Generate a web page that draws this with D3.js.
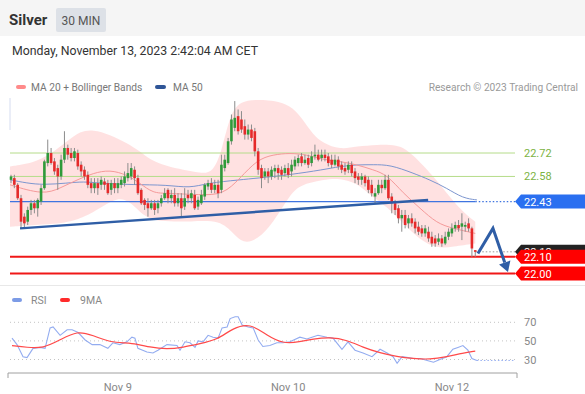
<!DOCTYPE html>
<html><head><meta charset="utf-8">
<script src="https://cdn.jsdelivr.net/npm/d3@7"></script>
<style>body{margin:0;background:#fff;} svg{display:block;font-family:Roboto,"Liberation Sans",Arial,sans-serif;}</style>
</head><body><svg id="c" width="585" height="394"></svg>
<script>
// ---- data ----
const open=[22.56,22.57,22.53,22.45,22.34,22.31,22.38,22.42,22.39,22.43,22.51,22.66,22.72,22.67,22.63,22.58,22.68,22.75,22.72,22.69,
22.72,22.65,22.62,22.59,22.54,22.51,22.54,22.53,22.55,22.54,22.50,22.54,22.51,22.53,22.54,22.57,22.58,22.62,22.57,22.50,
22.44,22.42,22.39,22.42,22.39,22.42,22.45,22.50,22.45,22.47,22.42,22.45,22.40,22.47,22.45,22.47,22.40,22.42,22.46,22.52,
22.54,22.50,22.53,22.50,22.63,22.66,22.79,22.87,22.94,22.92,22.88,22.83,22.86,22.85,22.73,22.63,22.58,22.61,22.58,22.61,
22.63,22.62,22.60,22.63,22.61,22.64,22.66,22.70,22.66,22.69,22.66,22.70,22.71,22.69,22.71,22.70,22.68,22.65,22.68,22.65,
22.63,22.62,22.65,22.61,22.58,22.56,22.58,22.56,22.53,22.46,22.48,22.53,22.51,22.56,22.46,22.42,22.39,22.33,22.35,22.30,
22.33,22.31,22.28,22.27,22.24,22.25,22.22,22.21,22.19,22.21,22.18,22.22,22.24,22.27,22.29,22.28,22.28,22.30,22.27,22.14];
const close=[22.58,22.53,22.45,22.31,22.30,22.38,22.42,22.39,22.44,22.51,22.67,22.72,22.66,22.61,22.58,22.68,22.75,22.71,22.69,22.73,
22.64,22.61,22.58,22.53,22.51,22.54,22.51,22.56,22.53,22.48,22.54,22.51,22.54,22.56,22.58,22.60,22.63,22.57,22.48,22.42,
22.41,22.39,22.42,22.38,22.42,22.45,22.48,22.45,22.47,22.42,22.45,22.39,22.45,22.45,22.48,22.39,22.44,22.47,22.53,22.54,
22.50,22.53,22.48,22.65,22.68,22.79,22.92,22.93,22.85,22.86,22.83,22.86,22.81,22.73,22.62,22.57,22.61,22.58,22.62,22.63,
22.60,22.59,22.63,22.59,22.65,22.68,22.69,22.66,22.68,22.65,22.70,22.71,22.68,22.71,22.69,22.66,22.65,22.68,22.64,22.62,
22.61,22.65,22.60,22.57,22.56,22.58,22.54,22.50,22.48,22.48,22.53,22.51,22.56,22.45,22.42,22.38,22.33,22.35,22.29,22.33,
22.30,22.27,22.25,22.24,22.27,22.21,22.18,22.18,22.21,22.18,22.22,22.25,22.27,22.29,22.27,22.30,22.29,22.27,22.15,22.13];
const high=[22.59,22.59,22.54,22.47,22.36,22.40,22.44,22.44,22.45,22.53,22.68,22.80,22.75,22.69,22.65,22.71,22.85,22.77,22.75,22.75,
22.74,22.67,22.64,22.61,22.57,22.57,22.57,22.58,22.57,22.56,22.56,22.57,22.57,22.58,22.61,22.66,22.66,22.64,22.59,22.51,
22.45,22.45,22.44,22.44,22.44,22.47,22.51,22.51,22.50,22.51,22.48,22.48,22.51,22.50,22.50,22.50,22.46,22.50,22.54,22.56,
22.57,22.56,22.56,22.71,22.71,22.81,22.95,23.03,22.98,22.97,22.92,22.89,22.89,22.87,22.75,22.65,22.63,22.63,22.64,22.65,
22.65,22.64,22.65,22.66,22.68,22.70,22.71,22.72,22.71,22.71,22.73,22.77,22.74,22.74,22.74,22.72,22.71,22.71,22.70,22.67,
22.66,22.67,22.67,22.63,22.60,22.60,22.59,22.58,22.56,22.51,22.56,22.56,22.59,22.59,22.48,22.44,22.41,22.38,22.38,22.35,
22.36,22.33,22.31,22.29,22.29,22.28,22.25,22.23,22.24,22.23,22.25,22.27,22.30,22.31,22.32,22.36,22.31,22.33,22.28,22.14];
const low=[22.54,22.51,22.44,22.27,22.27,22.29,22.35,22.36,22.34,22.41,22.50,22.64,22.65,22.59,22.50,22.56,22.66,22.68,22.67,22.67,
22.62,22.58,22.56,22.51,22.48,22.48,22.47,22.50,22.50,22.47,22.47,22.48,22.48,22.51,22.52,22.55,22.56,22.53,22.47,22.41,
22.38,22.34,22.38,22.35,22.36,22.40,22.44,22.42,22.42,22.40,22.40,22.34,22.38,22.42,22.42,22.38,22.38,22.41,22.44,22.50,
22.48,22.48,22.45,22.48,22.61,22.65,22.77,22.85,22.83,22.84,22.80,22.80,22.79,22.70,22.59,22.51,22.56,22.54,22.56,22.57,
22.56,22.56,22.58,22.57,22.58,22.62,22.64,22.64,22.65,22.63,22.64,22.68,22.67,22.67,22.67,22.64,22.63,22.64,22.62,22.60,
22.59,22.60,22.58,22.54,22.53,22.53,22.52,22.48,22.46,22.42,22.47,22.48,22.50,22.44,22.36,22.35,22.30,22.25,22.27,22.27,
22.28,22.24,22.23,22.22,22.22,22.19,22.16,22.16,22.17,22.16,22.17,22.20,22.22,22.25,22.25,22.20,22.25,22.25,22.10,22.10];

// [candle index, price]
const upperBand=[[-0.3,22.64],[6.6,22.66],[11.7,22.71],[16.8,22.79],[20.7,22.85],[24.6,22.86],[29.6,22.83],[34.7,22.78],[38.6,22.73],[41.6,22.68],
[46.7,22.64],[51.5,22.62],[56.6,22.60],[60.5,22.60],[63.2,22.74],[65.6,22.95],[68.6,23.03],[73.7,23.04],[80.5,23.03],[84.4,22.99],
[87.4,22.92],[90.4,22.83],[93.4,22.78],[98.5,22.74],[103.6,22.76],[109.6,22.77],[115.6,22.77],[119.5,22.73],[127.5,22.56],[133.5,22.40],[139,22.31]];
const lowerBand=[[-0.3,22.28],[6.6,22.29],[16.8,22.30],[22.2,22.34],[26.6,22.39],[30.5,22.44],[34.1,22.45],[37.1,22.40],[40.1,22.34],[44.0,22.31],
[54.2,22.31],[62.6,22.32],[66.5,22.24],[69.5,22.18],[73.7,22.20],[78.4,22.30],[83.5,22.47],[86.5,22.53],[93.4,22.56],[98.5,22.57],
[103.6,22.54],[107.5,22.47],[112.6,22.40],[117.4,22.30],[122.5,22.20],[127.5,22.15],[132.3,22.16],[139,22.18]];
const ma20=[[-0.3,22.53],[9.6,22.47],[14.7,22.51],[19.8,22.56],[24.6,22.60],[29.6,22.62],[34.7,22.59],[38.6,22.54],[42.5,22.48],[46.7,22.48],
[56.6,22.47],[63.5,22.47],[68.6,22.57],[73.7,22.68],[78.4,22.71],[83.5,22.72],[88.6,22.71],[93.4,22.68],[98.5,22.67],[103.6,22.65],
[108.4,22.62],[112.6,22.59],[117.4,22.48],[122.5,22.39],[127.5,22.30],[132.3,22.27],[139,22.24]];
const ma50=[[-0.3,22.56],[4.8,22.54],[9.6,22.53],[16.8,22.54],[21.6,22.55],[26.6,22.54],[36.5,22.53],[46.7,22.53],[53.6,22.51],[58.7,22.54],
[68.6,22.56],[73.7,22.57],[83.5,22.59],[93.4,22.62],[98.5,22.64],[103.6,22.65],[108.4,22.65],[113.5,22.65],[120.4,22.60],[125.4,22.56],
[130.5,22.51],[135.3,22.45],[139.5,22.44]];
const rsi=[[0.3,53],[1.8,46],[3.6,33],[4.8,32],[6.6,42],[8.7,43],[10.2,42],[11.7,64],[12.6,65],[14.7,56],[16.8,62],[18.3,62],[20.1,59],[22.2,51],
[24.3,46],[26.6,46],[29.0,42],[30.5,48],[32.6,46],[34.7,49],[36.2,54],[37.1,53],[38.0,42],[40.7,38],[42.5,37],[44.0,40],[46.7,46],[49.7,45],
[50.6,40],[52.1,49],[53.6,48],[55.1,43],[56.0,50],[57.5,49],[59.0,56],[60.5,54],[62.0,53],[63.2,64],[64.7,65],[65.6,74],[67.1,76],[68.0,76],
[69.2,67],[71.0,65],[72.5,64],[74.0,51],[75.4,44],[77.5,45],[79.6,48],[81.4,48],[83.5,49],[86.5,54],[88.6,52],[90.1,54],[91.9,56],[94.6,54],
[96.4,53],[99.1,41],[100.9,49],[103.0,40],[105.4,37],[108.1,33],[110.5,41],[112.6,37],[114.4,33],[115.6,26],[117.1,33],[118.9,32],[120.4,31],
[122.5,31],[124.6,29],[126.5,27],[128.4,30],[130.5,33],[132.3,41],[133.8,43],[135.3,45],[136.8,40],[138.0,31],[139.5,29]];
const rsiMA=[[0.3,45],[4.8,43],[9.6,42],[14.7,51],[19.8,61],[24.6,56],[29.6,48],[36.5,48],[41.6,43],[46.7,41],[51.5,43],[56.6,47],[61.7,51],
[66.5,64],[71.6,69],[76.6,56],[81.4,47],[86.5,49],[90.4,52],[95.5,54],[100.6,51],[105.4,43],[110.5,37],[115.6,33],[120.4,31],[125.4,30],
[130.5,33],[135.3,37],[139,39]];
const greenLevels=[22.72,22.58];
const blueLevel=22.43;
const redLevels=[22.10,22.00];
const lastPrice=22.13;
const trendline=[[2.7,22.27],[124.9,22.44]];
const forecast=[[139.8,22.12],[144.3,22.27],[148.8,22.01]];
const xTickIdx=[32,83,132];
const xTickLabels=["Nov 9","Nov 10","Nov 12"];
const rsiTicks=[70,50,30];

// ---- layout ----
const svg=d3.select("#c");
const plotL=10, plotR=515;
const x=d3.scaleLinear().domain([-0.9,151.5]).range([8,517]);
const y=d3.scaleLinear().domain([22.00,22.72]).range([273.6,153]);
const yr=d3.scaleLinear().domain([30,70]).range([359.5,322.3]);
const lastIdx=close.length-1;

// header
svg.append("rect").attr("x",0).attr("y",0).attr("width",585).attr("height",36).attr("fill","#f5f5f5");
svg.append("text").attr("x",9).attr("y",25).attr("font-size",15).attr("font-weight","bold").attr("fill","#333").text("Silver");
svg.append("rect").attr("x",56).attr("y",8).attr("width",50).attr("height",24).attr("rx",2).attr("fill","#dde1e7");
svg.append("text").attr("x",81).attr("y",24.5).attr("text-anchor","middle").attr("font-size",12).attr("fill","#555").text("30 MIN");
svg.append("text").attr("x",12).attr("y",55).attr("font-size",12.3).attr("fill","#333").text("Monday, November 13, 2023 2:42:04 AM CET");

// legend
svg.append("rect").attr("x",16).attr("y",85).attr("width",10).attr("height",4).attr("rx",2).attr("fill","#ff8a8a");
svg.append("text").attr("x",31).attr("y",91).attr("font-size",10.2).attr("fill","#777").text("MA 20 + Bollinger Bands");
svg.append("rect").attr("x",155).attr("y",85).attr("width",11).attr("height",4).attr("rx",2).attr("fill","#2f5597");
svg.append("text").attr("x",173).attr("y",91).attr("font-size",10.2).attr("fill","#777").text("MA 50");
svg.append("text").attr("x",578).attr("y",91).attr("text-anchor","end").attr("font-size",10.2).attr("fill","#9a9a9a").text("Research \u00A9 2023 Trading Central");
svg.append("line").attr("x1",10).attr("x2",10).attr("y1",98).attr("y2",130).attr("stroke","#d5dcf0").attr("stroke-width",1);

// bands
const lineP=d3.line().x(d=>x(d[0])).y(d=>y(d[1])).curve(d3.curveBasis);
const up=lineP(upperBand), lo=lineP(lowerBand.slice().reverse());
svg.append("path").attr("d",up+"L"+lo.slice(1)+"Z").attr("fill","#ffdcdc").attr("opacity",0.85);

// level lines
greenLevels.forEach(v=>{
  svg.append("line").attr("x1",plotL).attr("x2",plotR).attr("y1",y(v)).attr("y2",y(v)).attr("stroke","#b5dc8a").attr("stroke-width",1);
});
svg.append("path").attr("d",lineP(ma50)).attr("fill","none").attr("stroke","#7d96cf").attr("stroke-width",1);
svg.append("path").attr("d",lineP(ma20)).attr("fill","none").attr("stroke","#f59a9a").attr("stroke-width",1);
svg.append("line").attr("x1",plotL).attr("x2",x(lastIdx)).attr("y1",y(blueLevel)).attr("y2",y(blueLevel)).attr("stroke","#3f74e0").attr("stroke-width",1.4);
svg.append("line").attr("x1",x(lastIdx)).attr("x2",plotR).attr("y1",y(blueLevel)).attr("y2",y(blueLevel)).attr("stroke","#3f74e0").attr("stroke-width",1.2).attr("stroke-dasharray","1.5,2");
redLevels.forEach(v=>{
  svg.append("line").attr("x1",plotL).attr("x2",plotR).attr("y1",y(v)).attr("y2",y(v)).attr("stroke","#f01818").attr("stroke-width",2);
});
svg.append("line").attr("x1",x(lastIdx)).attr("x2",plotR).attr("y1",y(lastPrice)).attr("y2",y(lastPrice)).attr("stroke","#999").attr("stroke-width",1).attr("stroke-dasharray","1.5,2");

// candles
const cg=svg.append("g");
close.forEach((c,i)=>{
  const o=open[i], cx=x(i);
  const col=c>=o?"#2f9a3a":"#e52a2a";
  cg.append("line").attr("x1",cx).attr("x2",cx).attr("y1",y(high[i])).attr("y2",y(low[i])).attr("stroke","#8c8c8c").attr("stroke-width",1);
  const t=y(Math.max(o,c)), b=y(Math.min(o,c));
  cg.append("rect").attr("x",cx-1.3).attr("y",t).attr("width",2.6).attr("height",Math.max(1,b-t)).attr("fill",col);
});

// trendline
const lineL=d3.line().x(d=>x(d[0])).y(d=>y(d[1]));
svg.append("path").attr("d",lineL(trendline)).attr("stroke","#2f5ea6").attr("stroke-width",2.5).attr("fill","none");

// forecast arrow
const fc=forecast.map(d=>[x(d[0]),y(d[1])]);
const p1=fc[fc.length-2], p2=fc[fc.length-1];
const ang=Math.atan2(p2[1]-p1[1],p2[0]-p1[0]);
const hl=10, hw=6;
const base=[p2[0]-hl*Math.cos(ang),p2[1]-hl*Math.sin(ang)];
const fcLine=fc.slice(0,-1).concat([base]);
svg.append("path").attr("d",d3.line()(fcLine)).attr("stroke","#2f5ea6").attr("stroke-width",3).attr("fill","none").attr("stroke-linejoin","miter");
svg.append("path").attr("d",d3.line()([p2,[base[0]+hw*Math.sin(ang),base[1]-hw*Math.cos(ang)],[base[0]-hw*Math.sin(ang),base[1]+hw*Math.cos(ang)]])+"Z").attr("fill","#2f5ea6");

// right labels
function tag(v,fill){
  const cy=y(v);
  svg.append("path").attr("d",d3.line()([[515,cy],[521,cy-7],[585,cy-7],[585,cy+7],[521,cy+7]])+"Z").attr("fill",fill);
  svg.append("text").attr("x",524).attr("y",cy+4).attr("font-size",11).attr("fill","#fff").text(v.toFixed(2));
}
greenLevels.forEach(v=>{
  svg.append("text").attr("x",524).attr("y",y(v)+4).attr("font-size",11).attr("fill","#7cb342").text(v.toFixed(2));
});
tag(lastPrice,"#222");
tag(blueLevel,"#2a6ff0");
redLevels.forEach(v=>tag(v,"#ff0000"));

// separator
svg.append("line").attr("x1",0).attr("x2",585).attr("y1",285.5).attr("y2",285.5).attr("stroke","#e8e8e8");

// RSI panel
svg.append("rect").attr("x",12).attr("y",298).attr("width",10).attr("height",4).attr("rx",2).attr("fill","#7c9be6");
svg.append("text").attr("x",31).attr("y",304).attr("font-size",10.5).attr("fill","#888").text("RSI");
svg.append("rect").attr("x",60).attr("y",298).attr("width",10).attr("height",4).attr("rx",2).attr("fill","#ff2b2b");
svg.append("text").attr("x",80).attr("y",304).attr("font-size",10.5).attr("fill","#888").text("9MA");
rsiTicks.forEach(t=>{
  svg.append("line").attr("x1",plotL).attr("x2",plotR).attr("y1",yr(t)).attr("y2",yr(t)).attr("stroke","#c4c4c4").attr("stroke-dasharray","1,3");
  svg.append("text").attr("x",524).attr("y",yr(t)+4).attr("font-size",11).attr("fill","#888").text(t);
});
const lineR=d3.line().x(d=>x(d[0])).y(d=>yr(d[1]));
svg.append("path").attr("d",lineR(rsi)).attr("fill","none").attr("stroke","#93acf0").attr("stroke-width",1.1);
const lastR=rsi[rsi.length-1];
svg.append("line").attr("x1",x(lastR[0])).attr("x2",plotR).attr("y1",yr(lastR[1])).attr("y2",yr(lastR[1])).attr("stroke","#93acf0").attr("stroke-dasharray","1.5,2");
svg.append("path").attr("d",lineR.curve(d3.curveBasis)(rsiMA)).attr("fill","none").attr("stroke","#ff4a4a").attr("stroke-width",1.2);

// x axis
const ax=svg.append("g");
ax.append("path").attr("d",`M${x.range()[0]},378V373H${x.range()[1]}V378`).attr("fill","none").attr("stroke","#a0a0a0");
xTickIdx.forEach((t,i)=>{
  ax.append("text").attr("x",x(t)).attr("y",391).attr("text-anchor","middle").attr("font-size",11).attr("fill","#888").text(xTickLabels[i]);
});
</script></body></html>
